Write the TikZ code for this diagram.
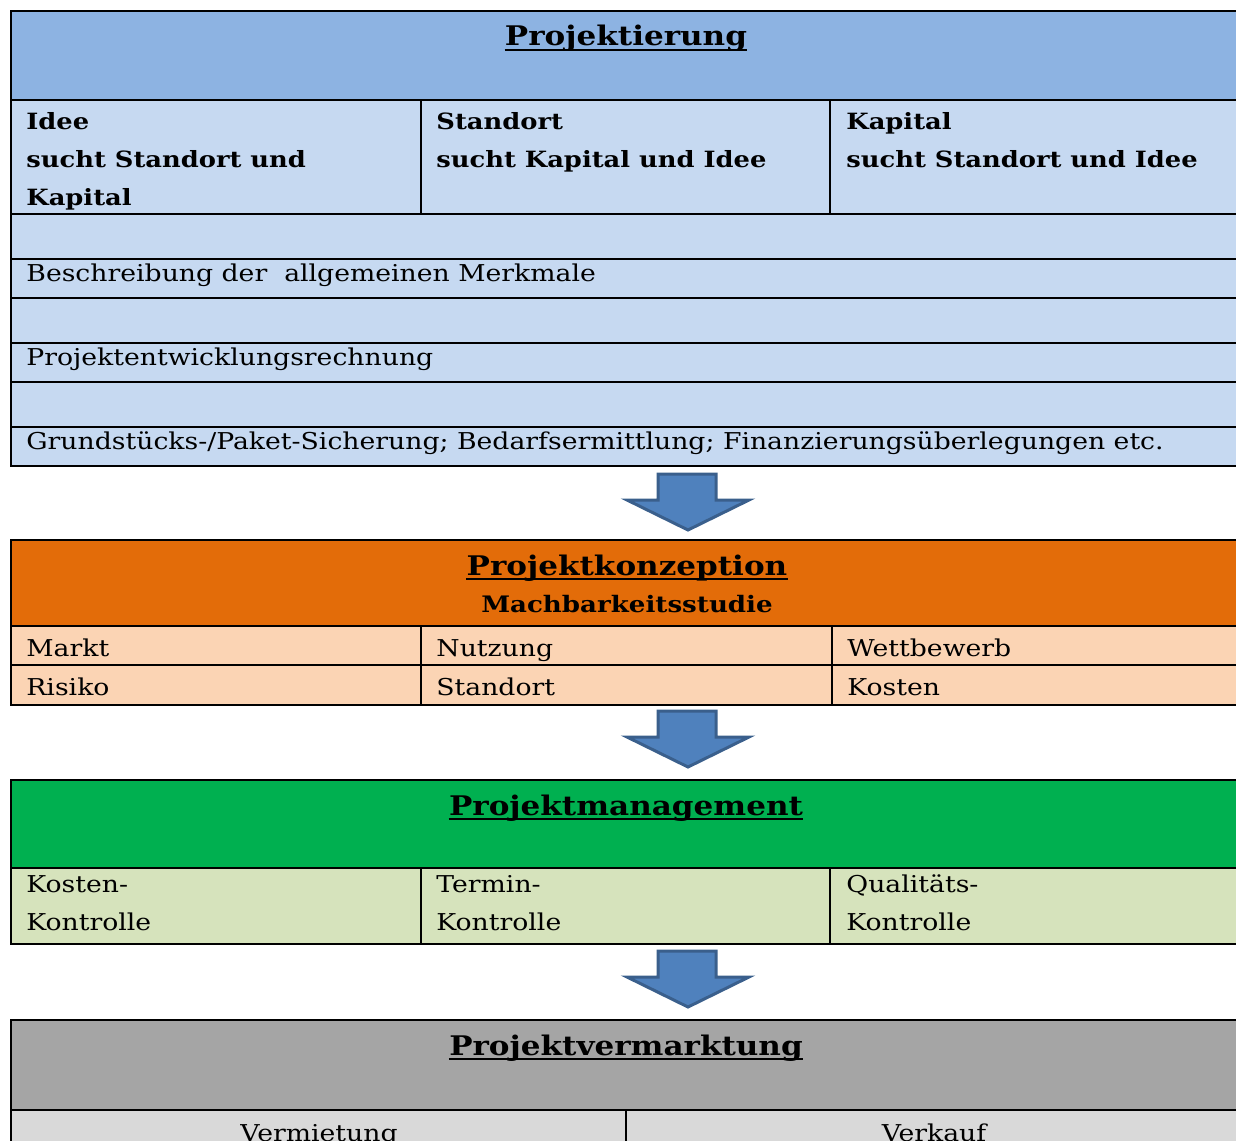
\documentclass[tikz,border=0pt]{standalone}
\usepackage{fontspec}
\setmainfont{DejaVu Serif}[FakeStretch=1.15]
\usetikzlibrary{positioning}

\definecolor{blueA}{HTML}{8DB3E2}
\definecolor{blueB}{HTML}{C6D9F1}
\definecolor{orangeA}{HTML}{E36C09}
\definecolor{orangeB}{HTML}{FBD4B4}
\definecolor{greenA}{HTML}{00B050}
\definecolor{greenB}{HTML}{D6E3BC}
\definecolor{grayA}{HTML}{A5A5A5}
\definecolor{grayB}{HTML}{D9D9D9}
\definecolor{arrowfill}{HTML}{4F81BD}
\definecolor{arrowline}{HTML}{3A5F8C}

\tikzset{
  rule/.style={line width=1.3pt},
  txt/.style={anchor=base west, inner sep=0pt, font=\fontsize{11.6}{19}\selectfont},
  btxt/.style={txt, align=left, font=\bfseries\fontsize{11.2}{19}\selectfont},
  title/.style={anchor=base, inner sep=0pt, font=\bfseries\fontsize{13.5}{17}\selectfont},
  bigarrow/.style={fill=arrowfill, draw=arrowline, line width=1.5pt, line join=miter}
}

\begin{document}
\begin{tikzpicture}[x=0.5pt, y=-0.5pt]
  \clip (0,0) rectangle (1236,1140);

  % Projektierung
  \fill[blueA] (11,11) rectangle (1250,100);
  \fill[blueB] (11,100) rectangle (1250,466);
  \draw[rule] (1250,11) -- (11,11) -- (11,466) -- (1250,466);
  \foreach \y in {100,214,259,298,343,382,427}
    \draw[rule] (11,\y) -- (1250,\y);
  \foreach \x in {421,830}
    \draw[rule] (\x,100) -- (\x,214);
  \node[title] (proj) at (626,46) {Projektierung};
  % multi-line nodes: base = last line
  \node[btxt] (idee) at (26,205) {Idee\\sucht Standort und\\Kapital};
  \node[btxt] (standort) at (436,167) {Standort\\sucht Kapital und Idee};
  \node[btxt] (kapital) at (846,167) {Kapital\\sucht Standort und Idee};
  \node[txt] (merkmale) at (26,281) {Beschreibung der\ \ allgemeinen Merkmale};
  \node[txt] (rechnung) at (26,365) {Projektentwicklungsrechnung};
  \node[txt] (sicherung) at (26,449) {Grundstücks-/Paket-Sicherung; Bedarfsermittlung; Finanzierungsüberlegungen etc.};

  % Projektkonzeption
  \fill[orangeA] (11,540) rectangle (1250,626);
  \fill[orangeB] (11,626) rectangle (1250,705);
  \draw[rule] (1250,540) -- (11,540) -- (11,705) -- (1250,705);
  \foreach \y in {626,665}
    \draw[rule] (11,\y) -- (1250,\y);
  \foreach \x in {421,832}
    \draw[rule] (\x,626) -- (\x,705);
  \node[title] (konz) at (627,575) {Projektkonzeption};
  \node[title, font=\bfseries\fontsize{11.35}{14}\selectfont] (machbar) at (627,612) {Machbarkeitsstudie};
  \node[txt] (markt) at (26,656) {Markt};
  \node[txt] (nutzung) at (436,656) {Nutzung};
  \node[txt] (wettbewerb) at (847,656) {Wettbewerb};
  \node[txt] (risiko) at (26,695) {Risiko};
  \node[txt] (standortb) at (436,695) {Standort};
  \node[txt] (kosten) at (847,695) {Kosten};

  % Projektmanagement
  \fill[greenA] (11,780) rectangle (1250,868);
  \fill[greenB] (11,868) rectangle (1250,944);
  \draw[rule] (1250,780) -- (11,780) -- (11,944) -- (1250,944);
  \draw[rule] (11,868) -- (1250,868);
  \foreach \x in {421,830}
    \draw[rule] (\x,868) -- (\x,944);
  \node[title] (mgmt) at (626,815) {Projektmanagement};
  \node[txt, align=left] (kostenk) at (26,930) {Kosten-\\Kontrolle};
  \node[txt, align=left] (termink) at (436,930) {Termin-\\Kontrolle};
  \node[txt, align=left] (qualk) at (846,930) {Qualitäts-\\Kontrolle};

  % Projektvermarktung
  \fill[grayA] (11,1020) rectangle (1250,1110);
  \fill[grayB] (11,1110) rectangle (1250,1160);
  \draw[rule] (1250,1020) -- (11,1020) -- (11,1160);
  \draw[rule] (11,1110) -- (1250,1110);
  \draw[rule] (626,1110) -- (626,1160);
  \node[title] (verm) at (626,1055) {Projektvermarktung};
  \node[txt, anchor=base] (vermietung) at (319,1141) {Vermietung};
  \node[txt, anchor=base] (verkauf) at (934,1141) {Verkauf};

  % underlined titles
  \foreach \t in {proj,konz,mgmt,verm}
    \draw[line width=1pt] ([yshift=-1.8pt]\t.base west) -- ([yshift=-1.8pt]\t.base east);

  % block arrows
  \foreach \y in {474,711,951}
    \draw[bigarrow] (658,\y) -- (716,\y) -- (716,\y+26) -- (749,\y+26)
      -- (688,\y+56) -- (627,\y+26) -- (658,\y+26) -- cycle;
\end{tikzpicture}
\end{document}
